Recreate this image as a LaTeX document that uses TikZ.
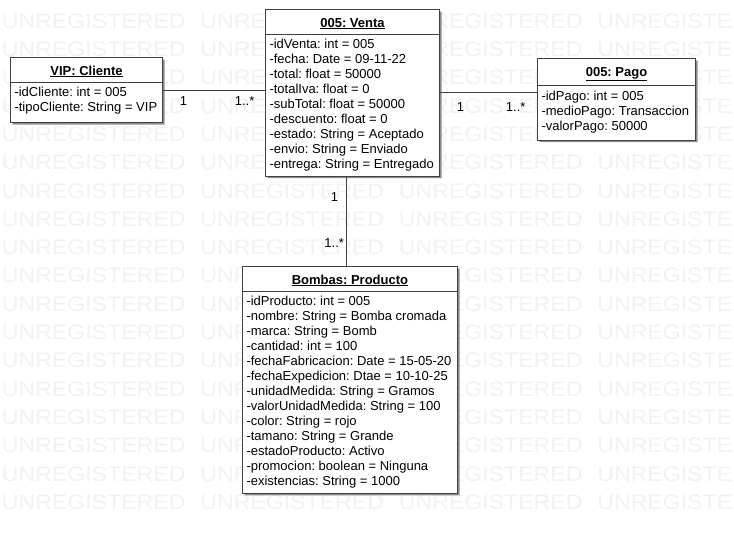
\documentclass[tikz,border=0pt]{standalone}
\usepackage{fontspec}
\setmainfont{Liberation Sans}
\usetikzlibrary{shapes.multipart,shadows}
\definecolor{linecolor}{rgb}{0.25,0.25,0.25}
\definecolor{markcolor}{rgb}{0.95,0.95,0.95}
\newcommand{\classname}[1]{\makebox[\linewidth]{\rule[-1.5pt]{0pt}{14pt}\textbf{\underline{#1}}}}
\newcommand{\attrs}{\spaceskip=0pt\xspaceskip=0pt\relax}
\frenchspacing
\hyphenpenalty=10000
\exhyphenpenalty=10000

\begin{document}
\begin{tikzpicture}[x=1pt, y=-1pt,
    every node/.style={font=\fontsize{13}{15}\selectfont},
    classbox/.style={rectangle split, rectangle split parts=2, anchor=north west,
      draw=linecolor, line width=1pt, fill=white, align=flush left,
      inner xsep=4pt, inner ysep=4.5pt,
      drop shadow={shadow xshift=2pt, shadow yshift=-2pt, fill=black!45, opacity=1}},
    assoc/.style={draw=linecolor, line width=1pt},
    mult/.style={inner sep=1pt},
    watermark/.style={anchor=west, inner sep=0pt, text=markcolor,
      font=\fontsize{21}{21}\selectfont}]
  \useasboundingbox (0,0) rectangle (734,533);
  \fill[white] (0,0) rectangle (734,533);

  % watermark rows
  \begin{scope}
    \clip (0,0) rectangle (734,533);
    \foreach \r in {0,...,17}
      \foreach \c in {0,...,3}
        \node[watermark] (wm-\r-\c) at ({1.7+198.5*\c},{21+28.3*\r})
          {\scalebox{1.1}[1]{UNREGISTERED}};
  \end{scope}

  % classes
  \node[classbox, text width=144pt] (cliente) at (10,57) {\classname{VIP: Cliente}
    \nodepart{two}\attrs -idCliente: int = 005\\
    -tipoCliente: String = VIP\rule[-6pt]{0pt}{0pt}};

  \node[classbox, text width=166pt] (venta) at (265,9) {\classname{005: Venta}
    \nodepart{two}\attrs -idVenta: int = 005\\
    -fecha: Date = 09-11-22\\
    -total: float = 50000\\
    -totalIva: float = 0\\
    -subTotal: float = 50000\\
    -descuento: float = 0\\
    -estado: String = Aceptado\\
    -envio: String = Enviado\\
    -entrega: String = Entregado};

  \node[classbox, text width=150pt] (pago) at (537,58) {\classname{005: Pago}
    \nodepart{two}\attrs -idPago: int = 005\\
    -medioPago: Transaccion\\
    -valorPago: 50000\rule[-5pt]{0pt}{0pt}};

  \node[classbox, text width=207pt] (producto) at (242,266) {\classname{Bombas: Producto}
    \nodepart{two}\attrs -idProducto: int = 005\\
    -nombre: String = Bomba cromada\\
    -marca: String = Bomb\\
    -cantidad: int = 100\\
    -fechaFabricacion: Date = 15-05-20\\
    -fechaExpedicion: Dtae = 10-10-25\\
    -unidadMedida: String = Gramos\\
    -valorUnidadMedida: String = 100\\
    -color: String = rojo\\
    -tamano: String = Grande\\
    -estadoProducto: Activo\\
    -promocion: boolean = Ninguna\\
    -existencias: String = 1000};

  % associations
  \draw[assoc] (cliente.east) -- (cliente.east -| venta.west)
    node[mult, pos=0.2, below=5pt] (cv-one) {1}
    node[mult, pos=0.8, below=5pt] (cv-many) {1..*};

  \coordinate (pago-end) at ([yshift=7pt]pago.west);
  \draw[assoc] (venta.east |- pago-end) -- (pago-end)
    node[mult, pos=0.21, below=9pt] (vp-one) {1}
    node[mult, pos=0.78, below=9pt] (vp-many) {1..*};

  \coordinate (producto-end) at ([xshift=-3.5pt]producto.north);
  \draw[assoc] (venta.south -| producto-end) -- (producto-end)
    node[mult, pos=0.23, left=7pt] (vb-one) {1}
    node[mult, pos=0.74, left=1pt] (vb-many) {1..*};
\end{tikzpicture}
\end{document}
